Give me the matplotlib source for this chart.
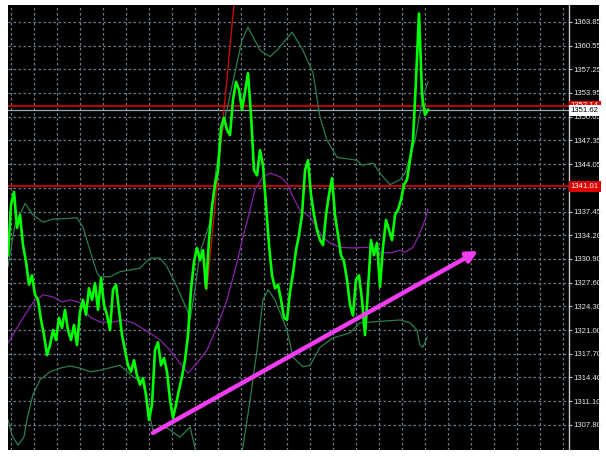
import matplotlib
matplotlib.use("Agg")
import matplotlib.pyplot as plt
import numpy as np

# close prices, one per bar
close = [1331.4, 1338.4, 1340.2, 1335.2, 1337.0, 1332.8, 1330.5, 1327.3, 1328.6, 1325.9,
         1325.2, 1322.4, 1320.3, 1317.5, 1318.9, 1321.0, 1319.6, 1322.7, 1321.3, 1323.8,
         1321.0, 1319.6, 1321.7, 1318.9, 1323.5, 1325.2, 1323.1, 1326.8, 1325.2, 1327.5,
         1323.8, 1328.2, 1324.5, 1323.1, 1321.0, 1326.6, 1327.3, 1323.8, 1320.3, 1318.2,
         1316.1, 1315.2, 1316.8, 1314.7, 1313.4, 1314.3, 1312.0, 1308.5, 1310.6, 1318.2,
         1319.3, 1316.1, 1317.1, 1315.2, 1311.3, 1308.8, 1310.6, 1312.7, 1314.5, 1316.8,
         1320.3, 1326.6, 1330.5, 1332.4, 1330.7, 1332.1, 1326.8, 1333.5, 1338.1, 1341.2,
         1343.2, 1349.1, 1350.5, 1348.8, 1348.1, 1353.0, 1355.5, 1354.4, 1351.6, 1354.1,
         1356.7, 1350.9, 1343.2, 1342.5, 1346.0, 1343.9, 1338.4, 1332.8, 1328.6, 1326.8,
         1327.3, 1325.2, 1322.7, 1322.4, 1326.3, 1328.9, 1332.1, 1334.2, 1337.0, 1343.2,
         1344.6, 1339.8, 1337.0, 1334.9, 1333.5, 1332.8, 1337.0, 1339.8, 1342.1, 1337.0,
         1334.2, 1331.4, 1330.5, 1328.0, 1324.5, 1323.0, 1328.0, 1328.6, 1325.2, 1320.3,
         1326.6, 1333.5, 1331.4, 1333.1, 1327.0, 1332.5, 1336.3, 1334.9, 1333.5, 1337.0,
         1337.7, 1339.1, 1341.2, 1341.9, 1344.6, 1347.4, 1355.8, 1365.0, 1353.7, 1350.9,
         1351.6]

# bollinger upper band (bar, price)
upper_bar = [0, 2.3, 5.7, 8.3, 11.7, 15, 23, 25, 27.3, 29.7, 30.7, 34, 37.3, 44, 47.3,
             50.7, 53, 56.3, 59.7, 60.7, 62.3, 64, 67.3, 69.3, 71.7, 78, 80, 84, 87.3,
             89.7, 94.7, 98.3, 101.7, 104, 106.3, 109.7, 116.3, 118, 121.7, 124, 127.3,
             130.7, 132.3, 135.7, 138.3, 140]
upper_val = [1329.8, 1335.6, 1338.6, 1337.0, 1336.0, 1336.4, 1336.6, 1335.3, 1332.1,
             1328.9, 1328.4, 1328.4, 1329.1, 1329.6, 1331.0, 1331.0, 1329.8, 1327.0,
             1323.8, 1322.4, 1326.6, 1331.8, 1335.9, 1343.2, 1349.2, 1361.3, 1363.1,
             1359.9, 1359.0, 1359.9, 1362.4, 1359.9, 1356.7, 1350.6, 1347.4, 1345.0,
             1344.6, 1343.9, 1344.2, 1342.8, 1341.2, 1341.9, 1342.8, 1347.4, 1353.4,
             1355.5]

# bollinger lower band
lower_bar = [0, 1.3, 3.3, 5.3, 6.3, 8.3, 10.7, 14, 17.3, 20.7, 24, 27.3, 30.7, 37.3,
             41.7, 45, 48.3, 53, 57.3, 60.7, 62.3, 63.7, 70, 77.3, 78.3, 80.7, 83, 85,
             86.7, 89, 91, 93, 95, 98.3, 100.7, 104, 108.3, 114, 117.3, 130.7, 134,
             136.3, 137.3, 138.3, 139.7]
lower_val = [1308.5, 1306.4, 1305.0, 1306.1, 1308.5, 1312.0, 1314.1, 1315.2, 1315.7,
             1316.0, 1315.7, 1315.2, 1315.4, 1316.1, 1314.5, 1313.6, 1307.1, 1307.4,
             1306.1, 1307.5, 1304.7, 1302.2, 1298.0, 1302.2, 1304.7, 1311.3, 1318.2,
             1325.2, 1326.6, 1325.2, 1323.1, 1321.0, 1317.2, 1315.9, 1316.1, 1318.6,
             1319.9, 1320.6, 1322.0, 1322.4, 1322.0, 1321.0, 1318.9, 1318.6, 1320.0]

# moving average (purple)
ma_bar = [0, 4, 8.3, 11.7, 15, 18, 20.7, 24, 27.3, 30.7, 35, 38.3, 41.7, 47.3, 50.7,
          54, 57.3, 60, 63, 66.3, 69.7, 73, 76.3, 78.3, 80.7, 82.3, 85, 87.3, 90.7, 93,
          95, 97.3, 100.7, 105, 107.3, 110.7, 115, 119.7, 124, 127.3, 130.7, 132.3, 135,
          137.3, 139, 140]
ma_val = [1319.2, 1322.0, 1324.8, 1325.9, 1325.6, 1324.9, 1325.2, 1324.8, 1322.8,
          1322.1, 1322.1, 1322.4, 1322.0, 1320.6, 1319.6, 1318.2, 1316.4, 1315.0,
          1316.4, 1318.2, 1321.4, 1325.2, 1330.3, 1333.9, 1337.7, 1340.5, 1342.3,
          1342.8, 1342.3, 1341.4, 1339.5, 1337.7, 1336.7, 1333.9, 1333.1, 1332.5,
          1332.4, 1332.5, 1331.8, 1331.7, 1332.1, 1331.8, 1332.5, 1334.5, 1336.3,
          1337.8]

# objects drawn on the chart
trend_bar = [66.3, 75.5]
trend_val = [1326.6, 1367.0]
arrow_bar = [48.3, 156.7]
arrow_val = [1306.7, 1332.0]
red_levels = [1352.14, 1341.01]
bid = 1351.62

yticks = [1363.85, 1360.55, 1357.25, 1353.95, 1350.65, 1347.35, 1344.05, 1340.75,
          1337.45, 1334.20, 1330.90, 1327.60, 1324.30, 1321.00, 1317.70, 1314.40,
          1311.10, 1307.80]

W, H = 606, 457
fig = plt.figure(figsize=(W / 100, H / 100), dpi=100)
fig.patch.set_facecolor('white')

# black background incl. price scale
bg = fig.add_axes([8 / W, 7 / H, 591 / W, 445 / H])
bg.set_facecolor('black')
bg.set_xticks([])
bg.set_yticks([])
for s in bg.spines.values():
    s.set_visible(False)

ax = fig.add_axes([8 / W, 7 / H, 561 / W, 445 / H])
ax.set_facecolor('black')
ax.set_xlim(0, 187)
ax.set_ylim(1304.32, 1366.18)

gridc = '#6c7a88'
for k in range(25):
    ax.axvline(1 + 23 * k / 3, color=gridc, lw=0.9, ls=(0, (2, 2)), zorder=1)
for t in yticks:
    ax.axhline(t, color=gridc, lw=0.9, ls=(0, (2, 2)), zorder=1)

for lvl in red_levels:
    ax.axhline(lvl, color='#c00000', lw=1.4, zorder=2)
ax.axhline(bid, color='#9aa6b2', lw=0.9, zorder=2)

ax.plot(upper_bar, upper_val, color='#2c7c50', lw=0.9, zorder=3)
ax.plot(lower_bar, lower_val, color='#2c7c50', lw=0.9, zorder=3)
ax.plot(ma_bar, ma_val, color='#8a22a6', lw=0.9, zorder=3)
ax.plot(trend_bar, trend_val, color='#c80a0a', lw=1.0, zorder=4)
ax.plot(np.arange(len(close)), close, color='#00ff00', lw=1.9, zorder=5)

ax.annotate('', xy=(arrow_bar[1], arrow_val[1]), xytext=(arrow_bar[0], arrow_val[0]),
            arrowprops=dict(arrowstyle='-|>', color='#f23cf2', lw=3.2,
                            mutation_scale=16, shrinkA=0, shrinkB=0), zorder=6)

fam = ['Liberation Sans', 'DejaVu Sans']
fs = 5.6
ax.yaxis.tick_right()
ax.set_yticks(yticks)
ax.set_yticklabels(['%.2f' % t for t in yticks], family=fam, fontsize=fs, color='#e8e8e8')
ax.tick_params(axis='y', colors='#c8c8c8', length=2.2, width=0.8, pad=1.2,
               labelcolor='#e8e8e8')
ax.set_xticks([])
for name, s in ax.spines.items():
    s.set_visible(name == 'right')
ax.spines['right'].set_color('#c8c8c8')
ax.spines['right'].set_linewidth(1.0)


def scale_label(price, text, fc, tc, z, dy=0.0):
    ax.annotate(text, xy=(1, price + dy), xycoords=('axes fraction', 'data'),
                xytext=(1.2, 0), textcoords='offset points', va='center', ha='left',
                family=fam, fontsize=fs, color=tc,
                bbox=dict(boxstyle='square,pad=0.25', fc=fc, ec='none'), zorder=z)


# price labels on the scale
scale_label(red_levels[1], '%.2f' % red_levels[1], '#e00000', 'white', 10)
scale_label(red_levels[0], '%.2f' % red_levels[0], '#e00000', 'white', 10)
scale_label(bid, '%.2f' % bid, 'white', 'black', 11, dy=-0.15)

fig.savefig('out.png', dpi=100, facecolor='white')
